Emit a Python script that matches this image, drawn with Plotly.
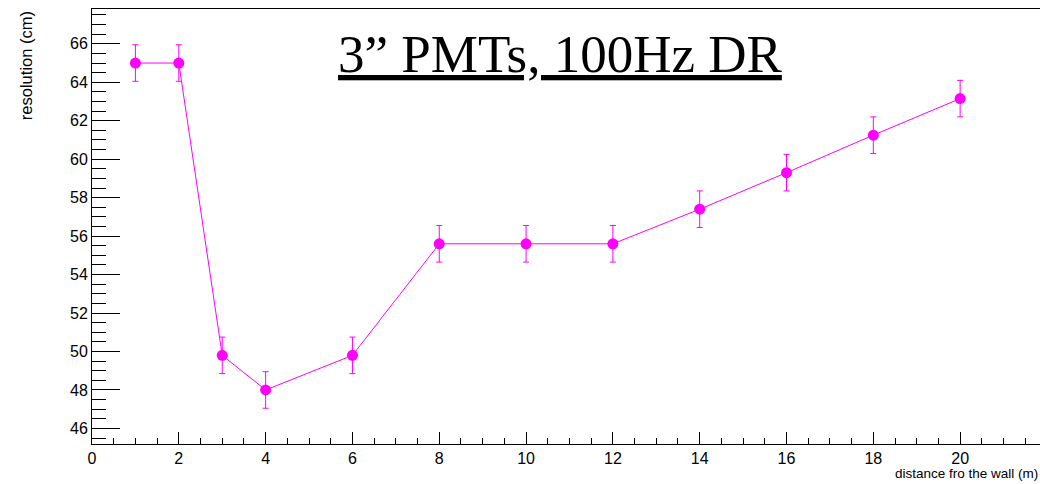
import plotly.graph_objects as go

# Resolution vs. distance from the wall, 3" PMTs at 100 Hz dark rate
distance_m = [1, 2, 3, 4, 6, 8, 10, 12, 14, 16, 18, 20]
resolution_cm = [65.0, 65.0, 49.8, 48.0, 49.8, 55.6, 55.6, 55.6, 57.4, 59.3, 61.25, 63.15]
resolution_err = [0.95] * 12

MAGENTA = "#ff00ff"
TICK_FONT = dict(family="Liberation Sans, Arial", size=16, color="black")

fig = go.Figure()
fig.add_trace(go.Scatter(
    x=distance_m,
    y=resolution_cm,
    mode="lines+markers",
    line=dict(color=MAGENTA, width=1),
    marker=dict(color=MAGENTA, size=11, symbol="circle"),
    error_y=dict(type="data", array=resolution_err, color=MAGENTA, thickness=1, width=3),
    showlegend=False,
))

fig.update_layout(
    width=1040,
    height=484,
    margin=dict(l=92, r=0, t=9, b=40),
    paper_bgcolor="white",
    plot_bgcolor="white",
    xaxis=dict(
        range=[0, 21.84],
        dtick=2,
        tick0=0,
        ticks="inside",
        ticklen=12,
        tickcolor="black",
        showline=True,
        linecolor="black",
        linewidth=1,
        mirror=True,
        showgrid=False,
        zeroline=False,
        tickfont=TICK_FONT,
        minor=dict(dtick=0.5, ticks="inside", ticklen=6, tickcolor="black", showgrid=False),
    ),
    yaxis=dict(
        range=[45.19, 67.81],
        dtick=2,
        tick0=0,
        ticks="inside",
        ticklen=28,
        tickcolor="black",
        showline=True,
        linecolor="black",
        linewidth=1,
        showgrid=False,
        zeroline=False,
        tickfont=TICK_FONT,
        minor=dict(dtick=0.5, ticks="inside", ticklen=14, tickcolor="black", showgrid=False),
    ),
    annotations=[
        dict(
            text="<u>3\u201d PMTs, 100Hz DR</u>",
            xref="paper", yref="paper", x=0.4936, y=0.897,
            xanchor="center", yanchor="middle",
            showarrow=False,
            font=dict(family="Liberation Serif", size=53, color="black"),
        ),
        dict(
            text="resolution (cm)",
            xref="paper", yref="paper", x=-0.07, y=1.0,
            xanchor="center", yanchor="top",
            textangle=-90,
            showarrow=False,
            font=dict(family="Liberation Sans", size=16.5, color="black"),
        ),
        dict(
            text="distance fro the wall (m)",
            xref="paper", yref="paper", x=1.0, y=-0.046,
            xanchor="right", yanchor="top",
            showarrow=False,
            font=dict(family="Liberation Sans", size=13.5, color="black"),
        ),
    ],
)

fig.write_html("out.html")
